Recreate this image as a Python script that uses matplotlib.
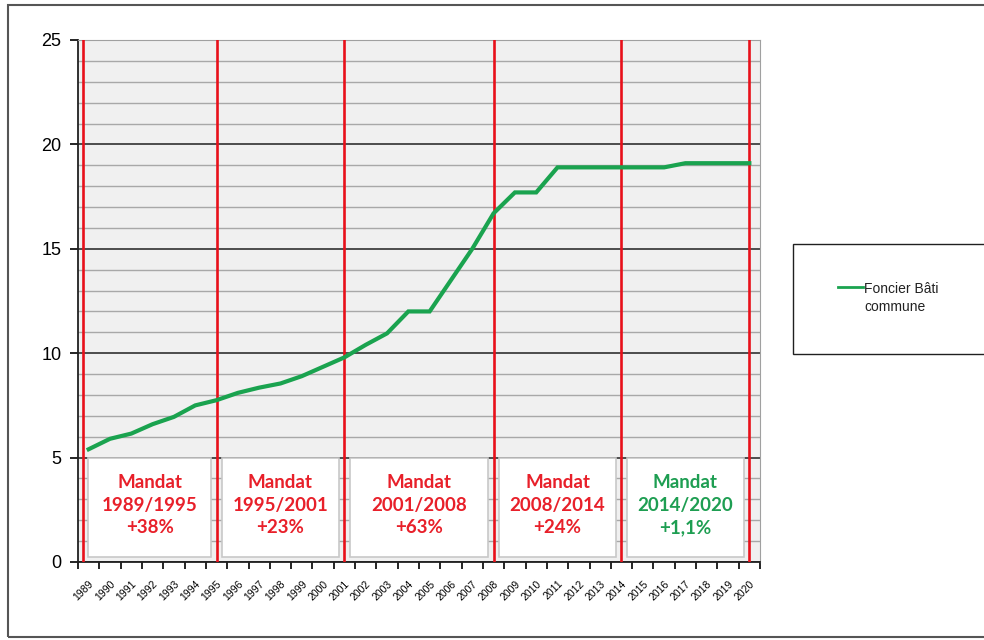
import numpy as np
import matplotlib
matplotlib.use('Agg')
import matplotlib.pyplot as plt
from matplotlib.patches import Rectangle
from matplotlib.lines import Line2D

years = list(range(1989, 2021))
foncier = [5.4, 5.9, 6.15, 6.6, 6.95, 7.5, 7.75, 8.1, 8.35, 8.55, 8.9, 9.35, 9.8,
           10.4, 10.95, 12.0, 12.0, 13.5, 15.0, 16.7, 17.7, 17.7, 18.9, 18.9,
           18.9, 18.9, 18.9, 18.9, 19.1, 19.1, 19.1, 19.1]
serie_label = 'Foncier Bâti\ncommune'

mandats = [(1989, 1995, '+38%'), (1995, 2001, '+23%'), (2001, 2008, '+63%'),
           (2008, 2014, '+24%'), (2014, 2020, '+1,1%')]
mandat_colors = ['#e8202a', '#e8202a', '#e8202a', '#e8202a', '#1e9e52']

plt.rcParams['font.family'] = ['Liberation Sans', 'DejaVu Sans']

fig = plt.figure(figsize=(9.84, 6.4), dpi=100)
ax = fig.add_axes([78 / 984, 78 / 640, 682 / 984, 522 / 640])
ax.set_facecolor('#f0f0f0')

x = np.arange(len(years))
ax.set_xlim(-0.5, len(years) - 0.5)
ax.set_ylim(0, 25)

# horizontal grid
ax.set_yticks(np.arange(0, 26, 5))
ax.set_yticks(np.arange(0, 26, 1), minor=True)
ax.grid(axis='y', which='minor', color='#a8a8a8', lw=1.0)
ax.grid(axis='y', which='major', color='#202020', lw=1.1)
ax.set_axisbelow(True)
ax.tick_params(axis='y', which='major', labelsize=13, length=6, width=1.2, pad=6)
ax.tick_params(axis='y', which='minor', length=0)

# categories: ticks on boundaries, labels in the middle
ax.set_xticks(np.arange(-0.5, len(years)))
ax.set_xticklabels([])
ax.set_xticks(x, minor=True)
ax.set_xticklabels([str(y) for y in years], minor=True, rotation=45,
                   ha='right', va='top', fontsize=7.5, rotation_mode='anchor')
ax.tick_params(axis='x', which='major', length=5, width=1.2)
ax.tick_params(axis='x', which='minor', length=0, pad=12)

for s in ['left', 'bottom']:
    ax.spines[s].set_color('#202020')
    ax.spines[s].set_linewidth(1.3)
for s in ['top', 'right']:
    ax.spines[s].set_color('#a0a0a0')

# mandate boundaries
bounds = [years.index(m[0]) for m in mandats] + [years.index(mandats[-1][1])]
bounds[0] = bounds[0] - 0.28
for b in bounds:
    ax.axvline(b, color='#e8101a', lw=1.9, zorder=3)

# text boxes
for i, (start, end, pct) in enumerate(mandats):
    x0 = bounds[i] + 0.25
    x1 = bounds[i + 1] - 0.25
    ax.add_patch(Rectangle((x0, 0.25), x1 - x0, 4.75, facecolor='white',
                           edgecolor='#c8c8c8', lw=1.2, zorder=2))
    ax.text((x0 + x1) / 2, 2.72, f'Mandat\n{start}/{end}\n{pct}',
            ha='center', va='center', fontsize=13.5, fontweight='bold',
            family='Lato', color=mandat_colors[i], linespacing=1.4, zorder=4)

line, = ax.plot(x, foncier, color='#1aa34f', lw=3, zorder=5,
                solid_joinstyle='miter')

# legend box (drawn by hand, handle next to the first text line)
fig.patches.append(Rectangle((793 / 984, 1 - 354 / 640), 0.3, 110 / 640,
                             transform=fig.transFigure, facecolor='white',
                             edgecolor='#202020', lw=1.0))
y_leg = 1 - 287 / 640
fig.add_artist(Line2D([838 / 984, 863 / 984], [y_leg, y_leg],
                      transform=fig.transFigure, color=line.get_color(), lw=2))
fig.text(864 / 984, 1 - 298 / 640, serie_label, ha='left', va='center',
         fontsize=10, linespacing=1.45, color='#222222')

# outer frame
fig.patches.append(Rectangle((8 / 984, 3 / 640), 1.0, 632 / 640,
                             transform=fig.transFigure, facecolor='none',
                             edgecolor='#555555', lw=1.5))

fig.savefig('out.png', dpi=100)
